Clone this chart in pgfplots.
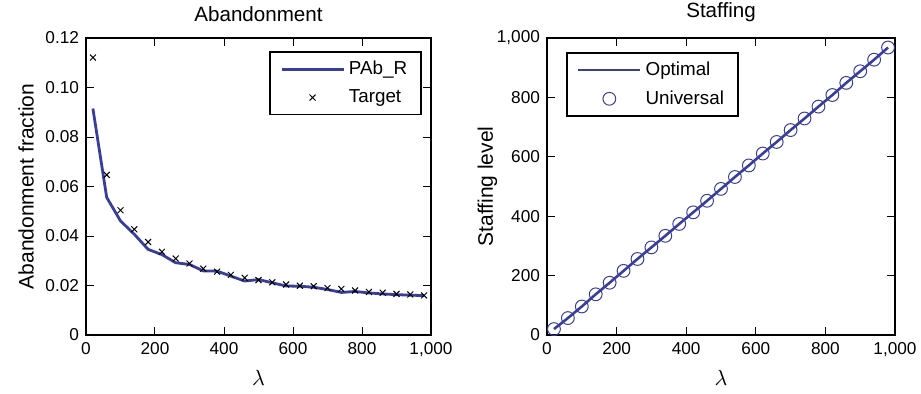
\documentclass[border=0pt]{standalone}
\usepackage{fontspec}
\setmainfont{Liberation Sans}
\usepackage{pgfplots}
\pgfplotsset{compat=1.18}
\definecolor{mblue}{RGB}{58,62,155}
\pgfplotsset{
  longline/.style={legend image code/.code={\draw[##1] (0pt,0pt) -- (31pt,0pt);}},
  midmark/.style={legend image code/.code={\draw[##1] plot coordinates {(15.5pt,0pt)};}},
  mytitle/.style={after end axis/.append code={\node[anchor=south, inner sep=3pt, yshift=5pt, font=\fontsize{10.3}{12}\selectfont] at (rel axis cs:0.5,1) {#1};}},
}
\begin{document}
\begin{tikzpicture}
\path[use as bounding box] (0pt,0pt) rectangle (460.5pt,196.5pt);
\pgfplotsset{
  every axis/.append style={
    scale only axis,
    axis line style={line width=0.6pt},
    every tick/.style={black,line width=0.5pt},
    major tick length=4pt,
    tick align=inside,
    xmin=0,xmax=1000,
    xtick={0,200,400,600,800,1000},
    xticklabels={0,200,400,600,800,{1,000}},
    tick label style={font=\fontsize{8.6}{10}\selectfont},
    label style={font=\fontsize{10.5}{12}\selectfont},
    xlabel={$\lambda$},
    legend style={font=\fontsize{9.4}{11}\selectfont, draw=black, line width=0.9pt, inner xsep=5pt, inner ysep=2.5pt, row sep=2pt},
    legend cell align=left,
  }
}
\begin{axis}[
  at={(43pt,29pt)}, anchor=south west,
  width=172.5pt, height=148.5pt,
  ymin=0, ymax=0.12,
  ytick={0,0.02,0.04,0.06,0.08,0.10,0.12},
  yticklabels={0,0.02,0.04,0.06,0.08,0.10,0.12},
  mytitle={Abandonment},
  ylabel={Abandonment fraction},
  ylabel style={yshift=-1pt},
  legend style={at={(0.974,0.956)}, anchor=north east},
]
\addplot[mblue, line width=1.4pt, longline] coordinates {
(20,0.0915) (60,0.0556) (100,0.0461) (140,0.0407) (180,0.0346) (220,0.0325)
(260,0.0292) (300,0.0285) (340,0.0259) (380,0.0258) (420,0.0238) (460,0.0218)
(500,0.0224) (540,0.0211) (580,0.0198) (620,0.0197) (660,0.0193) (700,0.0184)
(740,0.0172) (780,0.0176) (820,0.0170) (860,0.0166) (900,0.0163) (940,0.0161) (980,0.0159)
};
\addlegendentry{PAb\_R\hspace{2pt}}
\addplot[only marks, black, mark=x, mark size=2.1pt, mark options={line width=0.5pt}, midmark] coordinates {
(20,0.1121) (60,0.0647) (100,0.0504) (140,0.0427) (180,0.0376) (220,0.0336)
(260,0.0309) (300,0.0289) (340,0.0268) (380,0.0256) (420,0.0243) (460,0.0231)
(500,0.0222) (540,0.0213) (580,0.0204) (620,0.0199) (660,0.0197) (700,0.0190)
(740,0.0186) (780,0.0180) (820,0.0174) (860,0.0171) (900,0.0166) (940,0.0164) (980,0.0160)
};
\addlegendentry{Target}
\end{axis}
\begin{axis}[
  at={(273.5pt,29pt)}, anchor=south west,
  width=174pt, height=148.5pt,
  ymin=0, ymax=1000,
  ytick={0,200,400,600,800,1000},
  yticklabels={0,200,400,600,800,{1,000}},
  mytitle={Staffing},
  ylabel={Staffing level},
  ylabel style={yshift=-7pt},
  legend style={at={(0.055,0.953)}, anchor=north west},
]
\addplot[mblue, line width=1.3pt, longline] coordinates {
(20,20) (60,57) (100,96) (140,137) (180,176) (220,216) (260,256) (300,295)
(340,334) (380,374) (420,413) (460,452) (500,492) (540,532) (580,571) (620,611)
(660,650) (700,690) (740,729) (780,769) (820,808) (860,849) (900,888) (940,927) (980,968)
};
\addlegendentry{Optimal}
\addplot[only marks, mblue, mark=o, mark size=3.2pt, mark options={line width=0.5pt}, midmark] coordinates {
(20,20) (60,57) (100,96) (140,137) (180,176) (220,216) (260,256) (300,295)
(340,334) (380,374) (420,413) (460,452) (500,492) (540,532) (580,571) (620,611)
(660,650) (700,690) (740,729) (780,769) (820,808) (860,849) (900,888) (940,927) (980,968)
};
\addlegendentry{Universal}
\end{axis}
\end{tikzpicture}
\end{document}
